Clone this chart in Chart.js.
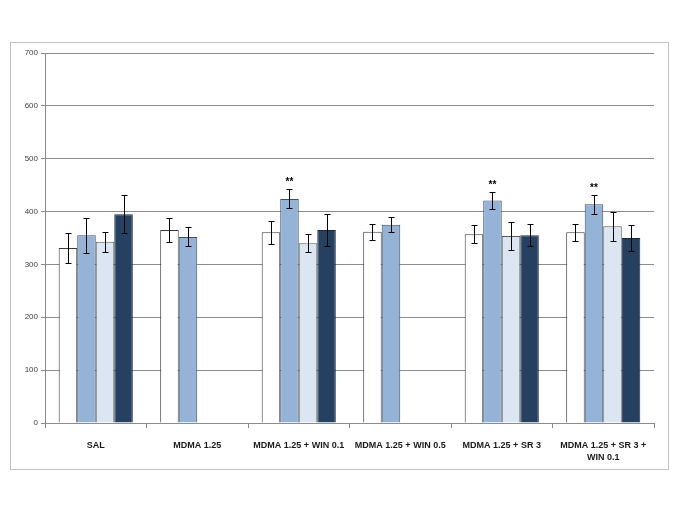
<!DOCTYPE html>
<html>
<head>
<meta charset="utf-8">
<script src="https://cdn.jsdelivr.net/npm/chart.js@4"></script>
<style>
html,body{margin:0;padding:0;background:#fff;}
canvas{display:block;}
</style>
</head>
<body>
<canvas id="c" width="685" height="513"></canvas>
<script>
const categories = ['SAL', 'MDMA 1.25', 'MDMA 1.25 + WIN 0.1', 'MDMA 1.25 + WIN 0.5', 'MDMA 1.25 + SR 3', ['MDMA 1.25 + SR 3 +', 'WIN 0.1']];
const series1 = [331, 365, 361, 362, 357, 361];
const error1  = [29, 22, 22, 15, 17, 16];
const series2 = [355, 352, 424, 375, 421, 414];
const error2  = [33, 18, 18, 14, 16, 18];
const series3 = [343, null, 340, null, 354, 372];
const error3  = [19, null, 17, null, 27, 27];
const series4 = [395, null, 365, null, 355, 350];
const error4  = [36, null, 31, null, 21, 25];
const stars2  = ['', '', '**', '', '**', '**'];
const yTicks  = [0, 100, 200, 300, 400, 500, 600, 700];

const errors = [error1, error2, error3, error4];
const stars = [null, stars2, null, null];

const outerBorder = {
  id: 'outerBorder',
  beforeDraw(chart) {
    const ctx = chart.ctx;
    ctx.save();
    ctx.fillStyle = '#ffffff';
    ctx.fillRect(0, 0, chart.width, chart.height);
    ctx.strokeStyle = '#c4c4c4';
    ctx.lineWidth = 1;
    ctx.strokeRect(10.5, 42.5, 658, 427);
    ctx.restore();
  }
};

const errorBars = {
  id: 'errorBars',
  afterDatasetsDraw(chart) {
    const ctx = chart.ctx;
    const y = chart.scales.y;
    ctx.save();
    ctx.strokeStyle = '#000000';
    ctx.lineWidth = 1;
    chart.data.datasets.forEach((ds, i) => {
      const meta = chart.getDatasetMeta(i);
      meta.data.forEach((el, j) => {
        const v = ds.data[j];
        const e = errors[i][j];
        if (v == null || e == null) return;
        const x = Math.round(el.x) + 0.5;
        const yt = Math.round(y.getPixelForValue(v + e)) + 0.5;
        const yb = Math.round(y.getPixelForValue(v - e)) + 0.5;
        ctx.beginPath();
        ctx.moveTo(x, yt); ctx.lineTo(x, yb);
        ctx.moveTo(x - 3, yt); ctx.lineTo(x + 3, yt);
        ctx.moveTo(x - 3, yb); ctx.lineTo(x + 3, yb);
        ctx.stroke();
        if (stars[i] && stars[i][j]) {
          ctx.fillStyle = '#000000';
          ctx.font = 'bold 10px "Liberation Sans", Arial, sans-serif';
          ctx.textAlign = 'center';
          ctx.textBaseline = 'middle';
          ctx.fillText(stars[i][j], el.x, yt - 7);
        }
      });
    });
    ctx.restore();
  }
};

const border = '#3c3c3c';
new Chart(document.getElementById('c'), {
  type: 'bar',
  data: {
    labels: categories,
    datasets: [
      { data: series1, backgroundColor: '#ffffff', borderColor: border, borderWidth: 1 },
      { data: series2, backgroundColor: '#95b3d7', borderColor: '#3f4f63', borderWidth: 1 },
      { data: series3, backgroundColor: '#dce6f2', borderColor: '#5a5a5a', borderWidth: 1 },
      { data: series4, backgroundColor: '#254061', borderColor: '#1a2a3c', borderWidth: 1 }
    ]
  },
  options: {
    responsive: false,
    animation: false,
    events: [],
    layout: { padding: { left: 0, right: 31, top: 53, bottom: 0 } },
    plugins: { legend: { display: false }, tooltip: { enabled: false } },
    datasets: { bar: { categoryPercentage: 0.73, barPercentage: 1.0 } },
    scales: {
      x: {
        offset: true,
        grid: { offset: true, drawOnChartArea: false, color: '#8c8c8c', tickLength: 5 },
        border: { color: '#8c8c8c' },
        ticks: {
          color: '#1a1a1a', padding: 11, maxRotation: 0, autoSkip: false,
          font: { family: '"Liberation Sans", Arial, sans-serif', size: 9, weight: 'bold', lineHeight: 1.35 }
        },
        afterFit(s) { s.height = 90; }
      },
      y: {
        min: 0, max: 700,
        afterBuildTicks(s) { s.ticks = yTicks.map(v => ({ value: v })); },
        grid: { color: '#8c8c8c', tickLength: 4 },
        border: { color: '#8c8c8c' },
        ticks: {
          color: '#404040', padding: 3,
          font: { family: '"Liberation Sans", Arial, sans-serif', size: 8 }
        },
        afterFit(s) { s.width = 45; }
      }
    }
  },
  plugins: [outerBorder, errorBars]
});
</script>
</body>
</html>
